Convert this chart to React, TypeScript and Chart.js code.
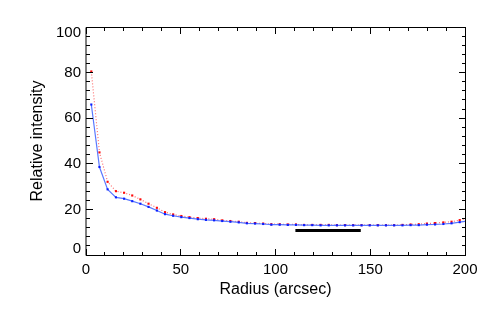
import React, { useEffect, useRef } from "react";
import { Chart, registerables } from "chart.js";

Chart.register(...registerables);

const radius = [
  2.8, 7.1, 11.4, 15.8, 20.1, 24.4, 28.7, 33.0, 37.4, 41.7, 46.0, 50.3, 54.6, 59.0, 63.3, 67.6,
  71.9, 76.2, 80.6, 84.9, 89.2, 93.5, 97.8, 102.2, 106.5, 110.8, 115.1, 119.4, 123.8, 128.1,
  132.4, 136.7, 141.0, 145.4, 149.7, 154.0, 158.3, 162.6, 167.0, 171.3, 175.6, 179.9, 184.2,
  188.6, 192.9, 197.2, 201.5,
];

const redSeries = [
  80.5, 45.0, 32.1, 28.0, 27.3, 26.1, 24.4, 22.5, 20.7, 18.8, 17.8, 17.1, 16.6, 16.2, 15.9, 15.7,
  15.2, 14.9, 14.6, 14.1, 14.0, 13.8, 13.5, 13.5, 13.4, 13.4, 13.2, 13.2, 13.2, 13.2,
  13.1, 13.1, 13.1, 13.1, 13.1, 13.1, 13.1, 13.1, 13.2, 13.4, 13.5, 13.8, 14.0,
  14.3, 14.6, 15.3, 16.1,
];

const blueSeries = [
  66.0, 38.6, 28.8, 25.3, 24.7, 23.6, 22.5, 21.1, 19.5, 17.9, 17.2, 16.6, 16.2, 15.7, 15.4, 15.2,
  14.9, 14.6, 14.3, 13.9, 13.8, 13.6, 13.3, 13.3, 13.2, 13.2, 13.1, 13.1, 13.0, 13.0,
  13.0, 13.0, 13.0, 13.0, 13.0, 13.0, 13.0, 13.0, 13.0, 13.1, 13.1, 13.3, 13.4,
  13.6, 13.9, 14.4, 15.0,
];

const barX = [110.5, 145.0];
const barY = [10.7, 10.7];

const xTickValues = [0, 50, 100, 150, 200];
const yTickValues = [0, 20, 40, 60, 80, 100];
const xMinorStep = 10;
const yMinorStep = 4;

const FONT = "'Liberation Sans', Arial, Helvetica, sans-serif";

const boxTicksPlugin = {
  id: "boxTicks",
  afterDatasetsDraw(chart: any) {
    const { ctx, chartArea } = chart;
    const xs = chart.scales.x;
    const ys = chart.scales.y;
    const left = Math.floor(chartArea.left) + 0.5;
    const right = Math.floor(chartArea.right) + 0.5;
    const top = Math.floor(chartArea.top) + 0.5;
    const bottom = Math.floor(chartArea.bottom) + 0.5;
    ctx.save();
    ctx.strokeStyle = "#000";
    ctx.lineWidth = 1;
    ctx.lineCap = "square";
    ctx.beginPath();
    ctx.rect(left, top, right - left, bottom - top);
    ctx.stroke();
    ctx.beginPath();
    for (let v = xs.min; v <= xs.max + 1e-9; v += xMinorStep) {
      const px = Math.floor(xs.getPixelForValue(v)) + 0.5;
      const len = xTickValues.includes(v) ? 6 : 3;
      ctx.moveTo(px, bottom);
      ctx.lineTo(px, bottom - len);
      ctx.moveTo(px, top);
      ctx.lineTo(px, top + len);
    }
    for (let v = ys.min; v <= ys.max + 1e-9; v += yMinorStep) {
      const py = Math.floor(ys.getPixelForValue(v)) + 0.5;
      const len = yTickValues.includes(v) ? 6 : 3;
      ctx.moveTo(left, py);
      ctx.lineTo(left + len, py);
      ctx.moveTo(right, py);
      ctx.lineTo(right - len, py);
    }
    ctx.stroke();
    ctx.restore();
  },
};

export default function App() {
  const ref = useRef<HTMLCanvasElement | null>(null);

  useEffect(() => {
    if (!ref.current) return;
    const chart = new Chart(ref.current, {
      type: "line",
      data: {
        datasets: [
          {
            label: "blue",
            data: radius.map((r, i) => ({ x: r, y: blueSeries[i] })),
            borderColor: "rgb(90,120,255)",
            borderWidth: 1.2,
            pointStyle: "rect",
            pointRadius: 1.5,
            pointBackgroundColor: "rgb(10,30,255)",
            pointBorderColor: "rgb(10,30,255)",
            pointBorderWidth: 0,
            tension: 0,
          },
          {
            label: "red",
            data: radius.map((r, i) => ({ x: r, y: redSeries[i] })),
            borderColor: "rgb(255,110,110)",
            borderWidth: 1.2,
            borderDash: [1, 2],
            pointStyle: "rect",
            pointRadius: 1.5,
            pointBackgroundColor: "rgb(255,10,10)",
            pointBorderColor: "rgb(255,10,10)",
            pointBorderWidth: 0,
            tension: 0,
          },
          {
            label: "bar",
            data: barX.map((x, i) => ({ x, y: barY[i] })),
            borderColor: "#000",
            borderWidth: 3,
            pointRadius: 0,
            borderCapStyle: "butt",
          },
        ],
      },
      options: {
        animation: false,
        responsive: false,
        events: [],
        layout: { padding: { top: 27, right: 26, left: 0, bottom: 0 } },
        plugins: { legend: { display: false }, tooltip: { enabled: false } },
        scales: {
          x: {
            type: "linear",
            min: 0,
            max: 200,
            afterFit: (s: any) => {
              s.height = 55;
            },
            afterBuildTicks: (s: any) => {
              s.ticks = xTickValues.map((v) => ({ value: v }));
            },
            grid: { display: false, drawTicks: false, tickLength: 0 },
            border: { display: false },
            ticks: {
              color: "#000",
              padding: 6,
              maxRotation: 0,
              font: { family: FONT, size: 15 },
            },
            title: {
              display: true,
              text: "Radius (arcsec)",
              color: "#000",
              font: { family: FONT, size: 16 },
              padding: { top: 0, bottom: 11 },
            },
          },
          y: {
            type: "linear",
            min: 0,
            max: 100,
            afterFit: (s: any) => {
              s.width = 86;
            },
            afterBuildTicks: (s: any) => {
              s.ticks = yTickValues.map((v) => ({ value: v }));
            },
            grid: { display: false, drawTicks: false, tickLength: 0 },
            border: { display: false },
            ticks: {
              color: "#000",
              padding: 5,
              font: { family: FONT, size: 15, lineHeight: 0.8 },
              callback: (v: any) => {
                if (v === 100) return ["", "100"];
                if (v === 0) return ["0", ""];
                return String(v);
              },
            },
            title: {
              display: true,
              text: "Relative intensity",
              color: "#000",
              font: { family: FONT, size: 16 },
              padding: { top: 28, bottom: 0 },
            },
          },
        },
      },
      plugins: [boxTicksPlugin],
    } as any);
    return () => chart.destroy();
  }, []);

  return (
    <div style={{ position: "fixed", left: 0, top: 0, width: 491, height: 310, background: "#fff" }}>
      <canvas ref={ref} width={491} height={310} style={{ display: "block" }} />
    </div>
  );
}
